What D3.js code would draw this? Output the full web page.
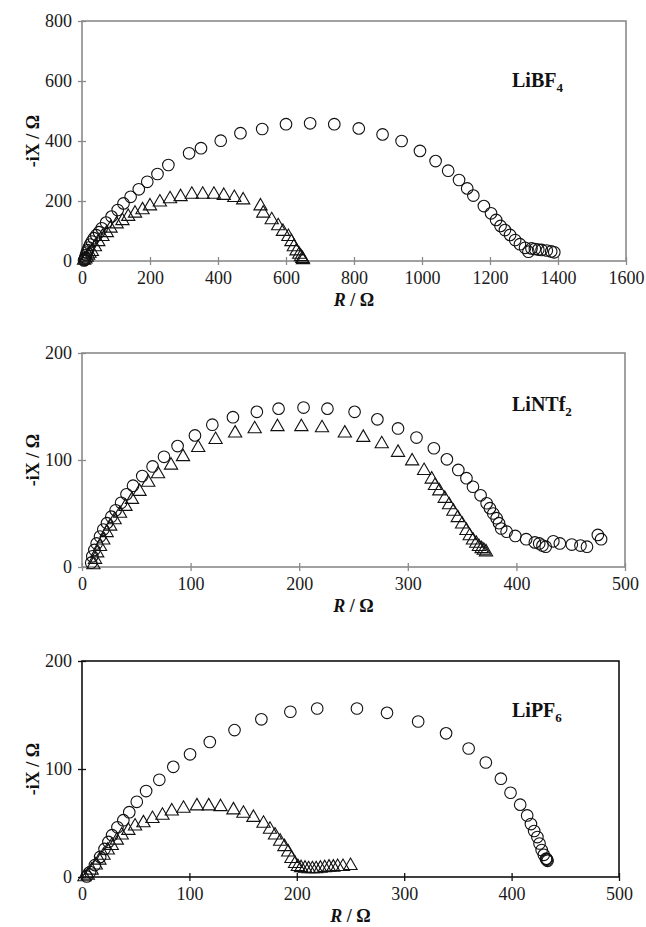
<!DOCTYPE html>
<html>
<head>
<meta charset="utf-8">
<script src="https://cdn.jsdelivr.net/npm/d3@7"></script>
<style>
  body { margin: 0; background: #fff; }
  text { font-family: 'Liberation Serif', 'Times New Roman', serif; }
</style>
</head>
<body>
<script>
// [R, -iX] pairs (ohm)
const bf4Circles = [[6,2],[8,4],[9,8],[10,12],[12,20],[14,28],[17,36],[20,45],[24,55],[29,65],[35,76],[42,86],[50,96],[58,109],[71,128],[87,148],[105,170],[122,192],[143,214],[167,239],[192,264],[222,290],[254,320],[315,359],[350,376],[408,401],[466,426],[530,440],[600,456],[671,459],[742,456],[814,442],[884,422],[940,400],[994,367],[1040,333],[1077,301],[1109,270],[1133,242],[1151,218],[1182,183],[1203,159],[1218,137],[1231,117],[1244,103],[1259,87],[1274,70],[1288,56],[1303,44],[1313,31],[1322,42],[1332,40],[1342,38],[1352,37],[1367,35],[1380,32],[1389,29]];
const bf4Triangles = [[6,2],[10,6],[14,12],[18,19],[22,25],[29,31],[38,47],[48,64],[60,81],[73,94],[84,109],[102,123],[119,134],[136,148],[156,159],[178,170],[200,183],[229,196],[259,207],[290,214],[323,222],[355,222],[388,222],[417,218],[448,211],[474,203],[525,183],[533,159],[558,137],[577,117],[591,98],[607,81],[616,64],[623,47],[631,33],[639,22],[644,14],[648,8],[650,4]];

const ntf2Circles = [[8.5,4],[9.5,10],[11.4,16],[13.5,22],[16.6,28.5],[19.6,35],[23,41],[27,47],[31,53],[36,60],[41,68],[47,76],[55.5,85],[65,94],[75.5,103],[88,113],[104,123],[120,133],[139,140],[161,145],[181,148],[204,149],[226,148],[251,145],[272,138],[291,129.5],[308,121],[324,111],[336,100.6],[346.5,90.7],[354,83],[360,75],[367,67],[372.6,59.6],[375.6,55],[378.7,50],[381.8,45.6],[384,41],[386,36],[391,33],[399,29],[409,26],[417,23],[421,22],[424,20],[427,19],[434,24],[440,22],[451,21],[459,20],[465,19],[475,30],[478,26]];
const ntf2Triangles = [[10.5,2],[12,7],[14,13],[16.6,19],[19.6,25],[22.7,32],[26,38],[30,44],[35,50],[40,56.5],[46,63],[53,70.5],[61,79],[70,87],[82,95],[93,103],[107,111.5],[123,119],[141,125],[159,129],[180,131],[202,131],[221,130],[242,125],[259,121],[276,115],[291,107],[304,99],[315,90],[322,82],[325,76],[329,71],[334,64],[338,58],[342,52],[346,46],[350,40],[354,34],[357,29],[360,25],[363,22],[365.5,19],[368,17],[370,15.5],[372,14]];

const pf6Circles = [[4.4,0.5],[7.5,4.6],[12,11],[16.9,18.6],[21,26],[24.6,32.5],[28,38.7],[33,46],[38.5,52.6],[44,60],[51,69.6],[59.7,79.6],[72,90],[85,102],[100.6,113.6],[119,125],[142,136],[167,146],[194,153],[219,156],[256,156],[284,152],[313,144],[339,133],[360,119],[376,106],[390,91],[399,78],[408,67],[414.5,57],[418,49],[421,42.6],[424,37],[426,31],[428,25],[430,20.5],[432,16.6],[433.5,15],[432.5,17],[433,16]];
const pf6Triangles = [[2.3,0],[5.4,1.6],[9,6.2],[12.8,11],[16.2,15.5],[20,20],[24,24.8],[27.7,29],[32.4,34],[37,38.7],[43.2,43],[49.4,47],[57.2,50],[65.6,54],[74.9,57],[83.6,61],[94.5,63.5],[107,65.7],[118,65.7],[129,65],[141,62],[150.3,58.8],[159.6,55],[169,49.6],[175,44],[179.7,38.7],[184.5,33],[188.5,28],[192,23],[195,17],[198.4,12.4],[201,9.5],[204,8.5],[207.7,8],[211,7.5],[214.5,7.5],[218,7.5],[222,8],[226,8.5],[230,9],[234,9],[238,9.5],[243,9.5],[250,10.5]];

const bf4XTicks = [0,200,400,600,800,1000,1200,1400,1600];
const bf4YTicks = [0,200,400,600,800];
const smallXTicks = [0,100,200,300,400,500];
const smallYTicks = [0,100,200];

const svg = d3.select('body').append('svg')
    .attr('width', 646)
    .attr('height', 927);

const drawPanel = p => {
    const xScale = d3.scaleLinear().domain([0, p.xMax]).range([p.left, p.right]);
    const yScale = d3.scaleLinear().domain([0, p.yMax]).range([p.bottom, p.top]);
    const g = svg.append('g');

    const xAxisG = g.append('g')
        .attr('transform', `translate(0, ${p.bottom})`)
        .call(d3.axisBottom(xScale).tickValues(p.xTicks).tickSize(4).tickPadding(6).tickFormat(d3.format('d')));
    xAxisG.selectAll('.tick line').attr('y1', -4).attr('y2', 4);

    const yAxisG = g.append('g')
        .attr('transform', `translate(${p.left}, 0)`)
        .call(d3.axisLeft(yScale).tickValues(p.yTicks).tickSize(4).tickPadding(6).tickFormat(d3.format('d')));
    yAxisG.selectAll('.tick line').attr('x1', -4).attr('x2', 4);

    [xAxisG, yAxisG].forEach(a => {
        a.select('.domain').remove();
        a.selectAll('.tick line').attr('stroke', p.axisColor).attr('stroke-width', 1.3);
        a.selectAll('.tick text')
            .attr('fill', '#1a1a1a')
            .style('font-family', "'Liberation Serif', serif")
            .style('font-size', '18px');
    });

    g.append('rect')
        .attr('x', p.left).attr('y', p.top)
        .attr('width', p.right - p.left).attr('height', p.bottom - p.top)
        .attr('fill', 'none')
        .attr('stroke', p.axisColor)
        .attr('stroke-width', p.frameWidth);

    // circles
    g.append('g').selectAll('circle').data(p.circles).join('circle')
        .attr('cx', d => xScale(d[0]))
        .attr('cy', d => yScale(d[1]))
        .attr('r', 5.8)
        .attr('fill', 'none')
        .attr('stroke', '#111')
        .attr('stroke-width', 1.1);

    // triangles
    const tri = d3.symbol().type(d3.symbolTriangle).size(76);
    g.append('g').selectAll('path').data(p.triangles).join('path')
        .attr('d', tri)
        .attr('transform', d => `translate(${xScale(d[0])}, ${yScale(d[1])})`)
        .attr('fill', 'none')
        .attr('stroke', '#111')
        .attr('stroke-width', 1.1);

    // salt label
    const lab = g.append('text')
        .attr('x', 512).attr('y', p.labelY)
        .style('font-size', '20px')
        .style('font-weight', 'bold')
        .attr('fill', '#111');
    lab.append('tspan').text(p.label);
    lab.append('tspan').text(p.sub).attr('dy', 5).style('font-size', '13px');

    // x title
    const xt = g.append('text')
        .attr('x', (p.left + p.right) / 2)
        .attr('y', p.bottom + 45)
        .attr('text-anchor', 'middle')
        .style('font-size', '18px')
        .style('font-weight', 'bold')
        .attr('fill', '#111');
    xt.append('tspan').text('R').style('font-style', 'italic');
    xt.append('tspan').text(' / Ω');

    // y title
    g.append('text')
        .attr('transform', `translate(39, ${(p.top + p.bottom) / 2}) rotate(-90)`)
        .attr('text-anchor', 'middle')
        .style('font-size', '18px')
        .style('font-weight', 'bold')
        .attr('fill', '#111')
        .text('-iX / Ω');
};

drawPanel({
    left: 82, right: 626, top: 21, bottom: 261,
    xMax: 1600, yMax: 800, xTicks: bf4XTicks, yTicks: bf4YTicks,
    axisColor: '#8a8a8a', frameWidth: 1.6,
    circles: bf4Circles, triangles: bf4Triangles,
    label: 'LiBF', sub: '4', labelY: 87
});

drawPanel({
    left: 82, right: 625, top: 353, bottom: 567,
    xMax: 500, yMax: 200, xTicks: smallXTicks, yTicks: smallYTicks,
    axisColor: '#8a8a8a', frameWidth: 1.6,
    circles: ntf2Circles, triangles: ntf2Triangles,
    label: 'LiNTf', sub: '2', labelY: 411
});

drawPanel({
    left: 82, right: 619, top: 661, bottom: 877,
    xMax: 500, yMax: 200, xTicks: smallXTicks, yTicks: smallYTicks,
    axisColor: '#111', frameWidth: 1.6,
    circles: pf6Circles, triangles: pf6Triangles,
    label: 'LiPF', sub: '6', labelY: 717
});
</script>
</body>
</html>
